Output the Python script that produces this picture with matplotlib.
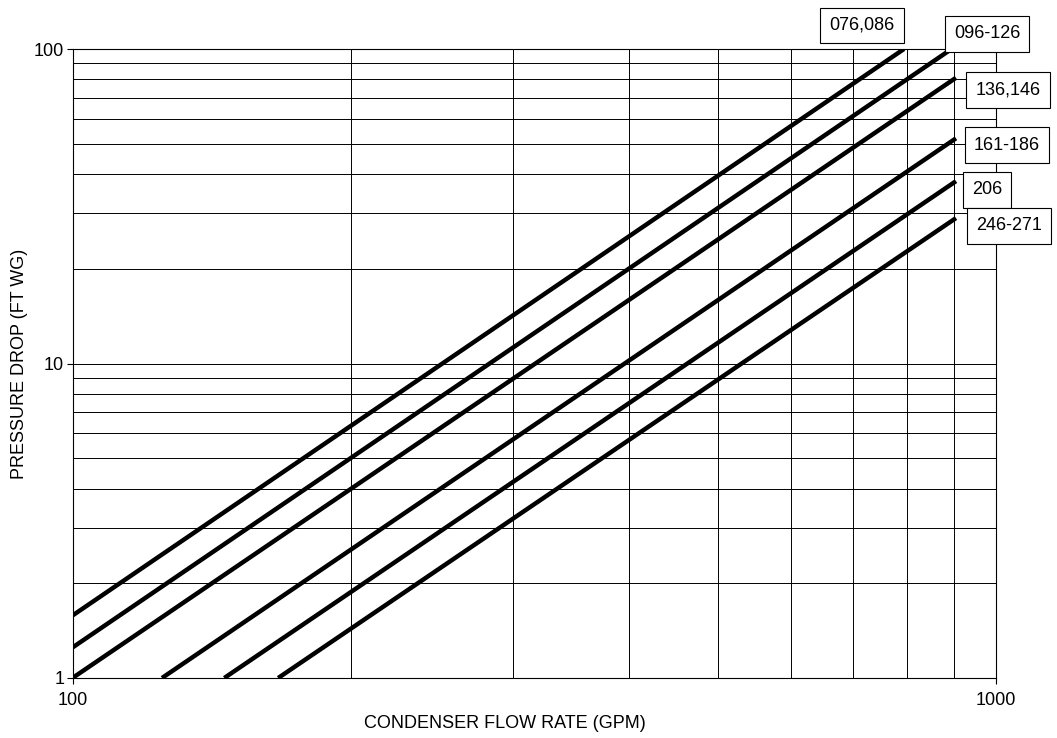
import matplotlib
matplotlib.use("Agg")
import matplotlib.pyplot as plt
from matplotlib.ticker import FixedLocator, NullFormatter

plt.rcParams['font.family'] = ['Liberation Sans', 'DejaVu Sans']

# condenser pressure drop curves, one straight line (log-log) per unit group
units = ["076,086", "096-126", "136,146", "161-186", "206", "246-271"]
flow_start = [100, 100, 100, 125, 146, 167]
pd_start = [1.58, 1.25, 1.0, 1.0, 1.0, 1.0]
flow_end = [795, 895, 905, 905, 905, 905]
pd_end = [100, 100, 81, 52, 38, 29]

# label box centres (figure pixels)
label_px = [(862, 25.5), (987, 34), (1008, 90), (1007, 145), (987, 190), (1009, 226)]

W, H = 1057, 738
fig = plt.figure(figsize=(W / 100, H / 100), dpi=100)
ax = fig.add_axes([72.5 / W, 1 - 678 / H, (996 - 72.5) / W, (678 - 49) / H])

for x0, y0, x1, y1 in zip(flow_start, pd_start, flow_end, pd_end):
    ax.plot([x0, x1], [y0, y1], color="black", lw=3.2, solid_capstyle="butt", zorder=3)

ax.set_xscale("log")
ax.set_yscale("log")
ax.set_xlim(100, 1000)
ax.set_ylim(1, 100)

ax.xaxis.set_major_locator(FixedLocator([100, 1000]))
ax.yaxis.set_major_locator(FixedLocator([1, 10, 100]))
ax.xaxis.set_minor_locator(FixedLocator(range(200, 1000, 100)))
ax.yaxis.set_minor_locator(FixedLocator(list(range(2, 10)) + list(range(20, 100, 10))))
ax.xaxis.set_minor_formatter(NullFormatter())
ax.yaxis.set_minor_formatter(NullFormatter())
ax.set_xticklabels(["100", "1000"])
ax.set_yticklabels(["1", "10", "100"])
ax.tick_params(which="major", direction="out", length=4, width=0.8, labelsize=13,
               colors="black")
ax.tick_params(axis="y", pad=2)
ax.tick_params(axis="x", pad=6)
ax.tick_params(which="minor", length=0)
ax.grid(True, which="both", color="black", lw=0.7)

for s in ax.spines.values():
    s.set_linewidth(0.8)

ax.set_xlabel("CONDENSER FLOW RATE (GPM)", fontsize=13)
ax.xaxis.set_label_coords(0.468, -0.059, transform=ax.transAxes)
ax.xaxis.label.set_va("top")
ax.set_ylabel("PRESSURE DROP (FT WG)", fontsize=13, labelpad=4)

for name, (px, py) in zip(units, label_px):
    fig.text(px / W, 1 - py / H, name, ha="center", va="center", fontsize=13,
             bbox=dict(boxstyle="square,pad=0.5", fc="white", ec="black", lw=0.8))

fig.savefig("out.png", dpi=100)
